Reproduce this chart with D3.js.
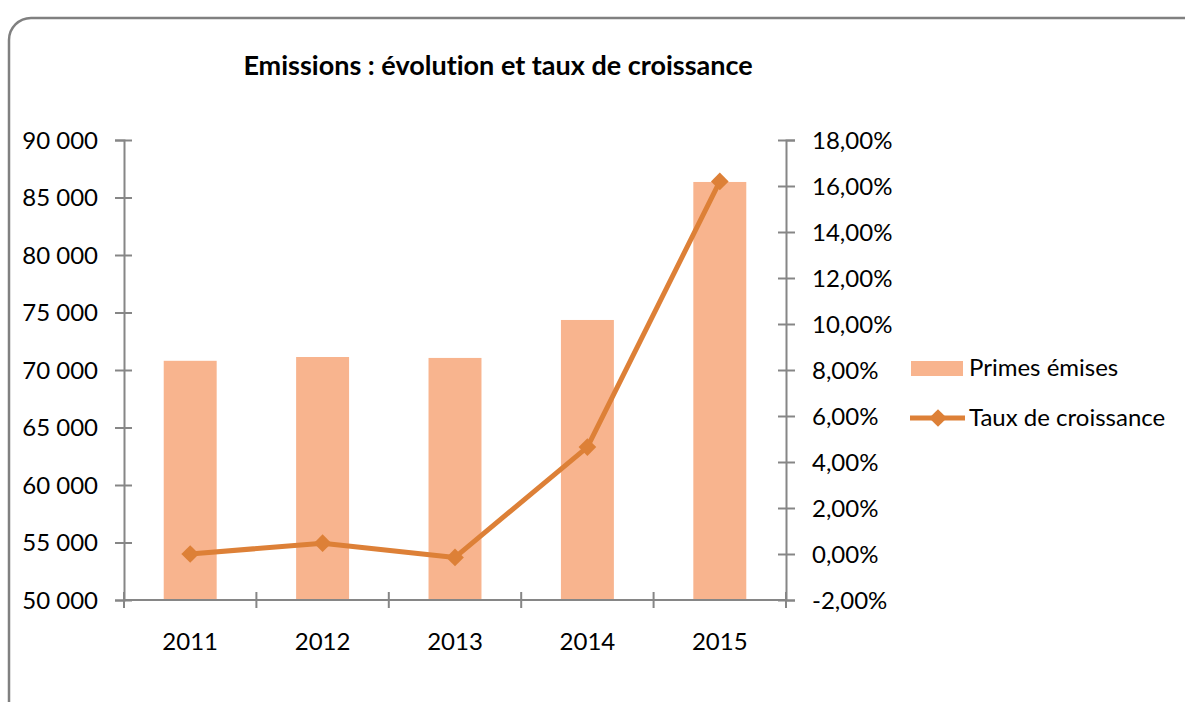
<!DOCTYPE html>
<html>
<head>
<meta charset="utf-8">
<script src="https://cdn.jsdelivr.net/npm/d3@7"></script>
<style>
  body { margin: 0; background: #fff; }
  text { font-family: Lato, 'Open Sans', sans-serif; fill: #000; font-variant-ligatures: none; }
</style>
</head>
<body>
<div id="chart"></div>
<script>
let years = ['2011', '2012', '2013', '2014', '2015']
let primes = [70800, 71130, 71050, 74350, 86350]
let taux = [0.0, 0.47, -0.15, 4.65, 16.2]
let leftTicks = [50000, 55000, 60000, 65000, 70000, 75000, 80000, 85000, 90000]
let rightTicks = [-2, 0, 2, 4, 6, 8, 10, 12, 14, 16, 18]
let seriesNames = ['Primes émises', 'Taux de croissance']

let barColor = '#f8b48e'
let lineColor = '#dd8037'
let axisColor = '#868686'

let W = 1185
let H = 702

let svg = d3.select('#chart').append('svg').attr('width', W).attr('height', H)

// frame
svg.append('rect')
    .attr('x', 9).attr('y', 18).attr('width', 1200).attr('height', 720)
    .attr('rx', 22).attr('ry', 22)
    .attr('fill', '#fff').attr('stroke', '#808080').attr('stroke-width', 2.5)

svg.append('text')
    .attr('x', 498).attr('y', 75)
    .attr('text-anchor', 'middle')
    .style('font-weight', 'bold').style('font-size', '27px')
    .text('Emissions : évolution et taux de croissance')

let x = d3.scaleBand().domain(years).range([124, 786])
let yL = d3.scaleLinear().domain([50000, 90000]).range([600, 140])
let yR = d3.scaleLinear().domain([-2, 18]).range([600, 140])

let fmtL = (d) => d3.format(',')(d).replace(',', ' ')
let fmtR = (d) => d.toFixed(2).replace('.', ',') + '%'

// bars
let barW = x.bandwidth() * 0.4
svg.append('g').selectAll('rect')
    .data(years)
    .enter().append('rect')
      .attr('x', (d) => x(d) + (x.bandwidth() - barW) / 2)
      .attr('y', (d, i) => yL(primes[i]))
      .attr('width', barW)
      .attr('height', (d, i) => 600 - yL(primes[i]))
      .attr('fill', barColor)

// left axis
let gl = svg.append('g').attr('transform', 'translate(124,0)')
    .call(d3.axisLeft(yL).tickValues(leftTicks).tickFormat(fmtL).tickSize(9).tickPadding(17))
gl.selectAll('.tick line').attr('x1', 8)
gl.selectAll('.tick text').style('font-size', '24px').attr('dy', '0.35em')

// right axis
let gr = svg.append('g').attr('transform', 'translate(786,0)')
    .call(d3.axisRight(yR).tickValues(rightTicks).tickFormat(fmtR).tickSize(9).tickPadding(17))
gr.selectAll('.tick line').attr('x1', -8)
gr.selectAll('.tick text').style('font-size', '24px').attr('dy', '0.35em')

// bottom axis (ticks on category boundaries)
let bounds = years.map((d) => x(d)).concat([x.range()[1]])
let gb = svg.append('g')
gb.selectAll('line.tk')
    .data(bounds)
    .enter().append('line')
      .attr('x1', (d) => d).attr('x2', (d) => d)
      .attr('y1', 592).attr('y2', 608)
      .attr('stroke', axisColor).attr('stroke-width', 2)
gb.append('line')
    .attr('x1', 124).attr('x2', 786).attr('y1', 600).attr('y2', 600)
    .attr('stroke', axisColor).attr('stroke-width', 2)
gb.selectAll('text')
    .data(years)
    .enter().append('text')
      .attr('x', (d) => x(d) + x.bandwidth() / 2)
      .attr('y', 650)
      .attr('text-anchor', 'middle')
      .style('font-size', '24px')
      .text((d) => d)

svg.selectAll('.domain').attr('stroke', axisColor).attr('stroke-width', 2)
svg.selectAll('.tick line').attr('stroke', axisColor).attr('stroke-width', 2)
svg.selectAll('.tick text').attr('fill', '#000')

// line series
let line = d3.line()
    .x((d, i) => x(years[i]) + x.bandwidth() / 2)
    .y((d) => yR(d))
svg.append('path')
    .datum(taux)
    .attr('d', line)
    .attr('fill', 'none')
    .attr('stroke', lineColor)
    .attr('stroke-width', 5)
    .attr('stroke-linejoin', 'round')

let diamond = d3.symbol().type(d3.symbolDiamond2).size(200)
svg.append('g').selectAll('path')
    .data(taux)
    .enter().append('path')
      .attr('d', diamond)
      .attr('transform', (d, i) => 'translate(' + (x(years[i]) + x.bandwidth() / 2) + ',' + yR(d) + ')')
      .attr('fill', lineColor)

// legend
let lg = svg.append('g')
lg.append('rect')
    .attr('x', 911).attr('y', 361).attr('width', 52).attr('height', 15)
    .attr('fill', barColor)
lg.append('text')
    .attr('x', 969).attr('y', 376)
    .style('font-size', '24px')
    .text(seriesNames[0])
lg.append('line')
    .attr('x1', 910).attr('x2', 965).attr('y1', 418).attr('y2', 418)
    .attr('stroke', lineColor).attr('stroke-width', 5)
lg.append('path')
    .attr('d', diamond)
    .attr('transform', 'translate(938,418)')
    .attr('fill', lineColor)
lg.append('text')
    .attr('x', 969).attr('y', 426)
    .style('font-size', '24px')
    .text(seriesNames[1])
</script>
</body>
</html>
